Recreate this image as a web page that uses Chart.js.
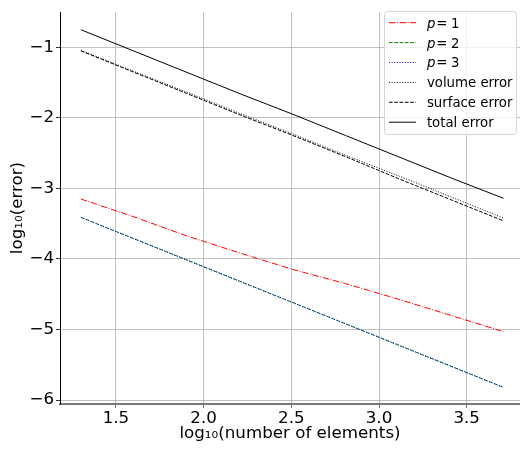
<!DOCTYPE html>
<html>
<head>
<meta charset="utf-8">
<script src="https://cdn.jsdelivr.net/npm/chart.js@4/dist/chart.umd.min.js"></script>
<style>
  body { margin: 0; background: #fff; }
</style>
</head>
<body>
<canvas id="errChart" width="520" height="452"></canvas>
<script>
// data (log10 scale)
const logElements = [1.30, 1.60, 1.90, 2.20, 2.51, 2.81, 3.11, 3.41, 3.71];
const errP1 = [-3.15, -3.40, -3.67, -3.91, -4.15, -4.35, -4.57, -4.80, -5.03];
const errP2 = [-3.41, -3.71, -4.01, -4.31, -4.62, -4.92, -5.22, -5.52, -5.82];
const errP3 = [-3.41, -3.71, -4.01, -4.31, -4.62, -4.92, -5.22, -5.52, -5.82];
const errVolume = [-1.04, -1.34, -1.63, -1.93, -2.23, -2.53, -2.82, -3.12, -3.42];
const errSurface = [-1.05, -1.35, -1.65, -1.95, -2.25, -2.55, -2.86, -3.16, -3.46];
const errTotal = [-0.75, -1.05, -1.35, -1.65, -1.95, -2.25, -2.55, -2.85, -3.14];

const seriesLabels = ['p = 1', 'p = 2', 'p = 3', 'volume error', 'surface error', 'total error'];
const xTicks = [1.5, 2.0, 2.5, 3.0, 3.5];
const yTicks = [-6, -5, -4, -3, -2, -1];

const FONT = 'DejaVu Sans';

function pts(ys) {
    return logElements.map((x, i) => ({ x: x, y: ys[i] }));
}

// legend inside the axes, matplotlib style
const insideLegend = {
    id: 'insideLegend',
    afterDraw(chart) {
        const ctx = chart.ctx;
        const right = chart.chartArea.right;
        const x0 = right - 135.5, y0 = 11.5;
        ctx.save();
        ctx.beginPath();
        ctx.roundRect(x0, y0, 132, 123, 3);
        ctx.fillStyle = 'rgba(255,255,255,0.8)';
        ctx.fill();
        ctx.strokeStyle = '#d5d5d5';
        ctx.lineWidth = 1;
        ctx.stroke();

        chart.data.datasets.forEach((ds, i) => {
            const y = 22.7 + i * 19.9;
            ctx.beginPath();
            ctx.setLineDash(ds.borderDash || []);
            ctx.strokeStyle = ds.borderColor;
            ctx.lineWidth = ds.borderWidth;
            ctx.moveTo(x0 + 4.5, y);
            ctx.lineTo(x0 + 31.5, y);
            ctx.stroke();
            ctx.setLineDash([]);

            ctx.fillStyle = '#000';
            ctx.textBaseline = 'alphabetic';
            const tx = x0 + 42.4;
            const by = y + 4.9;
            const label = ds.label;
            if (label.startsWith('p = ')) {
                ctx.font = 'italic 13.3px "' + FONT + '"';
                ctx.fillText('p', tx, by);
                ctx.font = '13.3px "' + FONT + '"';
                ctx.fillText('=', tx + 9.3, by);
                ctx.fillText(label.slice(4), tx + 24.2, by);
            } else {
                ctx.font = '13.3px "' + FONT + '"';
                ctx.fillText(label, tx, by);
            }
        });
        ctx.restore();
    }
};

const ctx = document.getElementById('errChart').getContext('2d');

new Chart(ctx, {
    type: 'scatter',
    data: {
        datasets: [
            { label: seriesLabels[0], data: pts(errP1), borderColor: '#ff0000', borderDash: [6.4, 1.6, 1, 1.6], order: 6 },
            { label: seriesLabels[1], data: pts(errP2), borderColor: '#008000', borderDash: [3.7, 1.6], order: 5 },
            { label: seriesLabels[2], data: pts(errP3), borderColor: '#0000ff', borderDash: [1, 1.65], order: 4 },
            { label: seriesLabels[3], data: pts(errVolume), borderColor: '#000000', borderDash: [1, 1.65], order: 3 },
            { label: seriesLabels[4], data: pts(errSurface), borderColor: '#000000', borderDash: [3.7, 1.6], order: 2 },
            { label: seriesLabels[5], data: pts(errTotal), borderColor: '#000000', borderDash: [], order: 1 }
        ].map(d => Object.assign(d, {
            showLine: true,
            borderWidth: 1,
            pointRadius: 0,
            pointHoverRadius: 0,
            fill: false,
            tension: 0
        }))
    },
    options: {
        responsive: false,
        animation: false,
        events: [],
        layout: { padding: { top: 5, right: 0, left: 0, bottom: 0 } },
        plugins: {
            legend: { display: false },
            tooltip: { enabled: false }
        },
        scales: {
            x: {
                type: 'linear',
                min: 1.181,
                max: 3.804,
                afterBuildTicks: (scale) => { scale.ticks = xTicks.map(v => ({ value: v })); },
                afterFit: (scale) => { scale.height = 48; },
                grid: { color: '#b0b0b0', lineWidth: 0.8, tickLength: 4, tickColor: '#555' },
                border: { display: true, color: '#7a7a7a', width: 2 },
                ticks: {
                    font: { family: FONT, size: 16.7 },
                    color: '#000',
                    padding: 1,
                    maxRotation: 0,
                    autoSkip: false,
                    callback: (v) => v.toFixed(1)
                },
                title: {
                    display: true,
                    text: 'log₁₀(number of elements)',
                    font: { family: FONT, size: 16.7 },
                    color: '#000',
                    padding: { top: 0, bottom: 8.5 }
                }
            },
            y: {
                type: 'linear',
                min: -6.056,
                max: -0.499,
                afterBuildTicks: (scale) => { scale.ticks = yTicks.map(v => ({ value: v })); },
                afterFit: (scale) => { scale.width = 60; },
                grid: { color: '#b0b0b0', lineWidth: 0.8, tickLength: 4, tickColor: '#000' },
                border: { display: true, color: '#000', width: 1 },
                ticks: {
                    font: { family: FONT, size: 16.7 },
                    color: '#000',
                    padding: 2,
                    autoSkip: false,
                    callback: (v) => (v < 0 ? '\u2212' : '') + Math.abs(v)
                },
                title: {
                    display: true,
                    text: 'log₁₀(error)',
                    font: { family: FONT, size: 16.7 },
                    color: '#000',
                    padding: { top: 8, bottom: 0 }
                }
            }
        }
    },
    plugins: [insideLegend]
});
</script>
</body>
</html>
